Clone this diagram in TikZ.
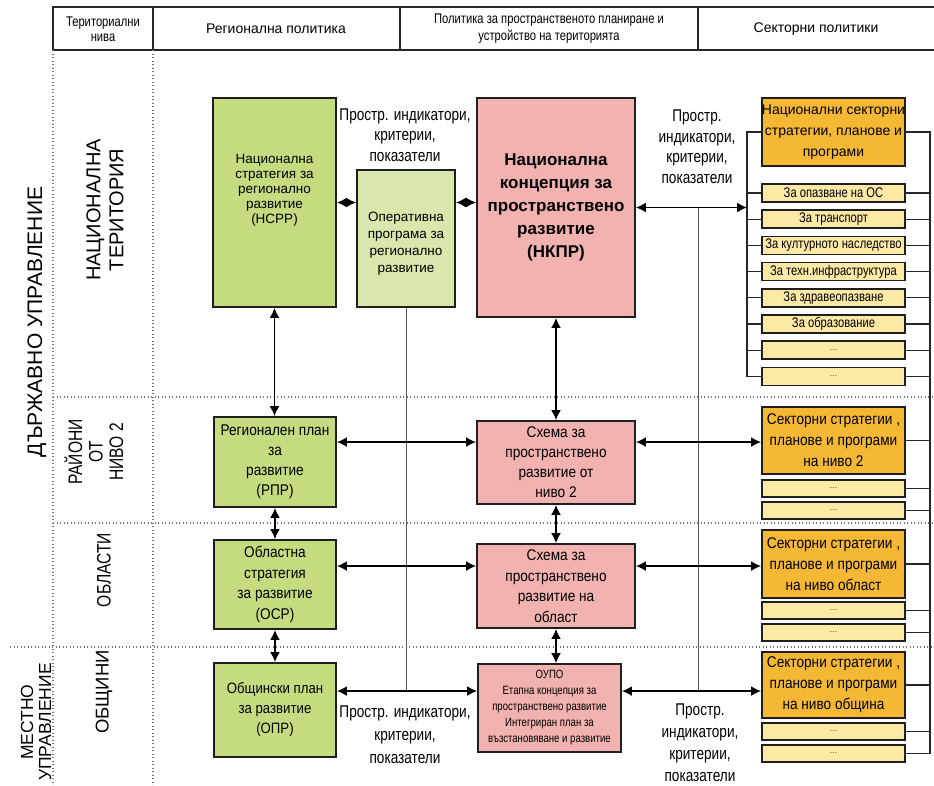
\documentclass[tikz,border=0pt]{standalone}
\usepackage{fontspec}
\setmainfont{Liberation Sans}
\newfontfamily\nfont[FakeStretch=0.8]{Liberation Sans}
\newfontfamily\mfont[FakeStretch=0.88]{Liberation Sans}
\usetikzlibrary{arrows.meta,calc}
\newcommand{\fsz}[2]{\fontsize{#1}{#2}\selectfont}
\definecolor{grn}{RGB}{196,219,128}
\definecolor{grnl}{RGB}{216,232,172}
\definecolor{pnk}{RGB}{242,178,176}
\definecolor{orng}{RGB}{245,184,52}
\definecolor{yel}{RGB}{252,233,165}
\tikzset{
  bx/.style={draw=black!88, line width=1.9pt, inner sep=0pt, align=center},
  gbox/.style={bx, fill=grn},
  glbox/.style={bx, fill=grnl},
  pbox/.style={bx, fill=pnk},
  obox/.style={bx, fill=orng, minimum width=143pt},
  ibox/.style={bx, fill=yel, line width=1.6pt, minimum width=143pt, minimum height=18pt, font=\nfont\fsz{14}{15}},
  dotbox/.style={ibox, font=\fsz{9}{10}\color{black!70}},
  txt/.style={align=center, inner sep=0pt},
  lbl/.style={align=center, inner sep=0pt, font=\nfont\fsz{17}{20.5}},
  dbl/.style={line width=1.6pt, {Latex[length=10pt,width=10pt]}-{Latex[length=10pt,width=10pt]}},
  thinln/.style={line width=1pt, black!65},
  bus/.style={line width=1.2pt, black!85},
  dots/.style={line width=1.4pt, black!55, dash pattern=on 1.3pt off 2.2pt},
  hdr/.style={line width=1.6pt, black!85},
  side/.style={rotate=90, align=center, inner sep=0pt},
}
\begin{document}
\begin{tikzpicture}[x=1pt,y=-1pt]
\useasboundingbox (0,0) rectangle (934,785);
\fill[white] (0,0) rectangle (934,785);

% header
\draw[hdr] (934,7) -- (53,7) -- (53,50) -- (934,50);
\draw[hdr] (153,7) -- (153,50);
\draw[hdr] (400,7) -- (400,50);
\draw[hdr] (698,7) -- (698,50);
\node[txt, font=\nfont\fsz{14}{15}] (h1) at (103,29) {Териториални\\нива};
\node[txt, font=\fsz{14}{16}] (h2) at (276,29) {Регионална политика};
\node[txt, font=\nfont\fsz{14}{17}] (h3) at (549,29) {Политика за пространственото планиране и\\устройство на територията};
\node[txt, font=\fsz{14}{16}] (h4) at (816,29) {Секторни политики};

% dotted grid
\draw[dots] (53,50) -- (53,785);
\draw[dots] (153,50) -- (153,785);
\draw[dots] (53,397) -- (934,397);
\draw[dots] (53,523) -- (934,523);
\draw[dots] (10,647) -- (934,647);

% side labels
\node[side, font=\fsz{21}{22}] (s1) at (37,322) {ДЪРЖАВНО УПРАВЛЕНИЕ};
\node[side, font=\fsz{17.5}{18}] (s2) at (36,722) {МЕСТНО\\УПРАВЛЕНИЕ};
\node[side, font=\fsz{20}{23}] (s3) at (105,210) {НАЦИОНАЛНА\\ТЕРИТОРИЯ};
\node[side, font=\nfont\fsz{19.5}{20.5}] (s4) at (94,452) {РАЙОНИ\\ОТ\\НИВО 2};
\node[side, font=\nfont\fsz{19.5}{20}] (s5) at (104,570) {ОБЛАСТИ};
\node[side, font=\fsz{18.5}{20}] (s6) at (104,692) {ОБЩИНИ};

% national level
\node[gbox, minimum width=123pt, minimum height=209pt] (nsrr) at (274.5,202.5) {};
\node[txt, font=\fsz{13.5}{15}] (nsrrt) at (274.5,190) {Национална\\стратегия за\\регионално\\развитие\\(НСРР)};
\node[glbox, minimum width=98pt, minimum height=137pt] (op) at (406,238.5) {};
\node[txt, font=\fsz{13.5}{17}] (opt) at (406,244) {Оперативна\\програма за\\регионално\\развитие};
\node[pbox, minimum width=158pt, minimum height=219pt, font=\bfseries\fsz{17}{23}] (nkpr) at (556,207.5) {Национална\\концепция за\\пространствено\\развитие\\(НКПР)};
\node[obox, minimum height=68pt, font=\fsz{14}{21}] (nat) at (833.5,132) {Национални секторни\\стратегии, планове и\\програми};

\foreach \t [count=\i] in {За опазване на ОС,За транспорт,За културното наследство,За техн.инфраструктура,За здравеопазване,За образование}{
  \pgfmathsetmacro{\yy}{193+(\i-1)*26.2}
  \node[ibox] (ni\i) at (833.5,\yy) {\t};
}
\node[dotbox] (ni7) at (833.5,350.2) {...};
\node[dotbox] (ni8) at (833.5,376.4) {...};

\node[lbl] (lab1) at (405,135) {Простр. индикатори,\\критерии,\\показатели};
\node[lbl] (lab2) at (697,146.5) {Простр.\\индикатори,\\критерии,\\показатели};

% level 2
\node[gbox, minimum width=122pt, minimum height=90pt, font=\mfont\fsz{15.5}{20}] (rpr) at (275,462) {Регионален план\\за\\развитие\\(РПР)};
\node[pbox, minimum width=158pt, minimum height=83pt, font=\mfont\fsz{15.5}{20}] (sch2) at (556,462.5) {Схема за\\пространствено\\развитие от\\ниво 2};
\node[obox, minimum height=67pt, font=\mfont\fsz{15.5}{21}] (sec2) at (833.5,440.5) {Секторни стратегии ,\\планове и програми\\на ниво 2};
\node[dotbox, minimum height=17pt] (s2a) at (833.5,488.5) {...};
\node[dotbox, minimum height=17pt] (s2b) at (833.5,510.5) {...};

% oblast
\node[gbox, minimum width=122pt, minimum height=89pt, font=\mfont\fsz{15.5}{20.5}] (osr) at (275,584.5) {Областна\\стратегия\\за развитие\\(ОСР)};
\node[pbox, minimum width=158pt, minimum height=84pt, font=\mfont\fsz{15.5}{20.5}] (scho) at (556,586) {Схема за\\пространствено\\развитие на\\област};
\node[obox, minimum height=68pt, font=\mfont\fsz{15.5}{21}] (seco) at (833.5,564) {Секторни стратегии ,\\планове и програми\\на ниво област};
\node[dotbox, minimum height=17pt] (soa) at (833.5,610.5) {...};
\node[dotbox, minimum height=17pt] (sob) at (833.5,632.5) {...};

% obshtina
\node[gbox, minimum width=122pt, minimum height=94pt, font=\mfont\fsz{15}{20}] (opr) at (275,710) {Общински план\\за развитие\\(ОПР)};
\node[pbox, minimum width=143pt, minimum height=88pt, font=\nfont\fsz{12}{16}] (oupo) at (549.5,708) {ОУПО\\Етапна концепция за\\пространствено развитие\\Интегриран план за\\възстановяване и развитие};
\node[obox, minimum height=66pt, font=\mfont\fsz{15.5}{21}] (sec3) at (833.5,685) {Секторни стратегии ,\\планове и програми\\на ниво община};
\node[dotbox, minimum height=17pt] (sca) at (833.5,731.5) {...};
\node[dotbox, minimum height=17pt] (scb) at (833.5,753.5) {...};

\node[lbl, font=\nfont\fsz{17}{23}] (lab3) at (405,734.5) {Простр. индикатори,\\критерии,\\показатели};
\node[lbl, font=\nfont\fsz{17}{22}] (lab4) at (700,743) {Простр.\\индикатори,\\критерии,\\показатели};

% bus coordinates
\coordinate (lbus) at (747,0);
\coordinate (rbus) at (930,0);
\coordinate (vx) at (698,0);
\coordinate (a1) at ([yshift=-26pt]rpr.north east);
\coordinate (a2) at ([yshift=-27pt]osr.north east);
\coordinate (a3) at ([yshift=-29pt]opr.north east);

% thin vertical lines
\draw[thinln] (op.south) -- (op.south |- a3);
\draw[thinln] (nkpr.east -| vx) -- (a3 -| vx);

% left bus (national)
\draw[bus] (nat.west) -- (nat.west -| lbus) -- (ni8.west -| lbus) -- (ni8.west);
\foreach \i in {1,...,7}{\draw[bus] (ni\i.west) -- (ni\i.west -| lbus);}
% right bus
\draw[bus] (nat.east) -- (nat.east -| rbus) -- (scb.east -| rbus) -- (scb.east);
\foreach \n in {ni1,ni2,ni3,ni4,ni5,ni6,ni7,ni8,sec2,s2a,s2b,seco,soa,sob,sec3,sca}{\draw[bus] (\n.east) -- (\n.east -| rbus);}

% arrows national
\draw[dbl] (nsrr.east) -- (nsrr.east -| op.west);
\draw[dbl] (op.east |- nsrr.east) -- (nsrr.east -| nkpr.west);
\draw[dbl] (nkpr.east) -- (nkpr.east -| lbus);

% vertical arrows
\draw[dbl] (nsrr.south) -- (nsrr.south |- rpr.north);
\draw[dbl] (rpr.south) -- (osr.north);
\draw[dbl] (osr.south) -- (opr.north);
\draw[dbl] (nkpr.south) -- (sch2.north);
\draw[dbl] (sch2.south) -- (scho.north);
\draw[dbl] (scho.south) -- (scho.south |- oupo.north);

% horizontal arrows
\draw[dbl] (a1) -- (a1 -| sch2.west);
\draw[dbl] (a1 -| sch2.east) -- (a1 -| sec2.west);
\draw[dbl] (a2) -- (a2 -| scho.west);
\draw[dbl] (a2 -| scho.east) -- (a2 -| seco.west);
\draw[dbl] (a3) -- (a3 -| oupo.west);
\draw[dbl] (a3 -| oupo.east) -- (a3 -| sec3.west);
\end{tikzpicture}
\end{document}
